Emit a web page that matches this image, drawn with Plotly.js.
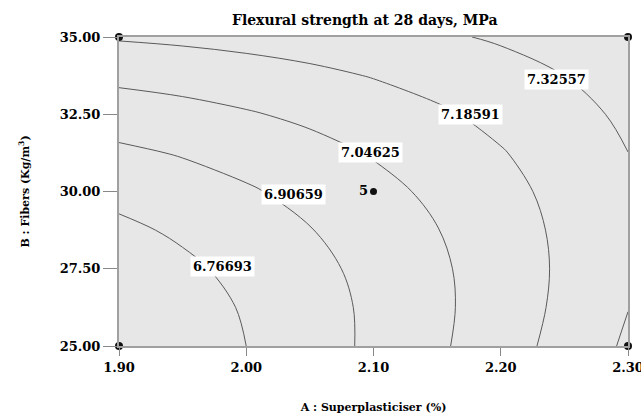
<!DOCTYPE html>
<html><head><meta charset="utf-8">
<script src="https://cdn.plot.ly/plotly-3.0.1.min.js"></script>
<style>html,body{margin:0;padding:0;background:#fff}#chart{width:641px;height:416px}</style>
</head><body><div id="chart"></div>
<script>
// A : Superplasticiser (%) grid
const superplasticiser = [1.90, 1.95, 2.00, 2.05, 2.10, 2.15, 2.20, 2.25, 2.30];
// B : Fibers (Kg/m3) grid
const fibers = [25.00, 26.25, 27.50, 28.75, 30.00, 31.25, 32.50, 33.75, 35.00];
// Flexural strength (MPa), rows = fibers, cols = superplasticiser
const strength = [
  [6.629, 6.694, 6.767, 6.846, 6.932, 7.025, 7.125, 7.232, 7.346],
  [6.652, 6.712, 6.778, 6.852, 6.932, 7.019, 7.114, 7.215, 7.323],
  [6.689, 6.742, 6.803, 6.870, 6.944, 7.025, 7.113, 7.208, 7.310],
  [6.740, 6.787, 6.841, 6.902, 6.969, 7.043, 7.124, 7.212, 7.306],
  [6.804, 6.845, 6.892, 6.946, 7.006, 7.073, 7.146, 7.225, 7.311],
  [6.882, 6.916, 6.957, 7.003, 7.056, 7.114, 7.178, 7.249, 7.325],
  [6.974, 7.001, 7.035, 7.073, 7.117, 7.167, 7.222, 7.283, 7.349],
  [7.079, 7.100, 7.126, 7.156, 7.192, 7.232, 7.277, 7.326, 7.381],
  [7.198, 7.212, 7.230, 7.252, 7.278, 7.308, 7.340, 7.380, 7.422]
];
const contourLevels = [6.76693, 6.90659, 7.04625, 7.18591, 7.32557];
// design points: factorial corners and centre point (5 replicates)
const cornerA = [1.90, 1.90, 2.30, 2.30];
const cornerB = [25.00, 35.00, 25.00, 35.00];
const centreA = [2.10];
const centreB = [30.00];
const centreText = ["5"];
const xTicks = [1.90, 2.00, 2.10, 2.20, 2.30];
const yTicks = [25.00, 27.50, 30.00, 32.50, 35.00];

// label placement (layout)
const labelAt = [[1.981, 27.56], [2.037, 29.89], [2.098, 31.25], [2.1766, 32.48], [2.2438, 33.61]];

const serif = '"DejaVu Serif", "Liberation Serif", serif';

const traces = [
  {
    type: 'contour',
    x: superplasticiser, y: fibers, z: strength,
    contours: {
      start: contourLevels[0],
      end: contourLevels[contourLevels.length - 1],
      size: contourLevels[1] - contourLevels[0],
      coloring: 'none', showlabels: false
    },
    line: {color: '#5a5a5a', width: 1, smoothing: 1},
    showscale: false, hoverinfo: 'skip'
  },
  {
    type: 'scatter', mode: 'markers',
    x: cornerA, y: cornerB,
    marker: {color: '#111', size: 8, symbol: 'circle'},
    cliponaxis: false, hoverinfo: 'skip'
  },
  {
    type: 'scatter', mode: 'markers+text',
    x: centreA, y: centreB, text: centreText,
    textposition: 'middle left',
    textfont: {family: serif, size: 13, color: '#000', weight: 'bold'},
    marker: {color: '#111', size: 7, symbol: 'circle'},
    cliponaxis: false, hoverinfo: 'skip'
  }
];

const annotations = contourLevels.map((lv, i) => ({
  x: labelAt[i][0], y: labelAt[i][1], xref: 'x', yref: 'y',
  text: lv.toFixed(5), showarrow: false,
  bgcolor: '#ffffff', borderpad: 2,
  font: {family: serif, size: 13, color: '#000', weight: 'bold'}
}));

const layout = {
  width: 641, height: 416,
  margin: {l: 119, r: 13, t: 37, b: 70},
  paper_bgcolor: '#ffffff', plot_bgcolor: '#e7e7e7',
  showlegend: false,
  title: {
    text: 'Flexural strength at 28 days, MPa',
    x: 0.569, xanchor: 'center', y: 0.952, yanchor: 'middle',
    font: {family: serif, size: 14, color: '#000', weight: 'bold'}
  },
  xaxis: {
    range: [1.90, 2.30], tickvals: xTicks, ticktext: xTicks.map(v => v.toFixed(2)),
    ticks: 'outside', ticklen: 8, tickcolor: '#888', tickwidth: 1,
    ticklabeloverflow: 'allow',
    showline: true, mirror: true, linecolor: '#a0a0a0', linewidth: 2,
    showgrid: false, zeroline: false,
    tickfont: {family: serif, size: 13, color: '#000', weight: 'bold'},
    title: {text: 'A : Superplasticiser (%)', standoff: 30,
            font: {family: serif, size: 11, color: '#000', weight: 'bold'}}
  },
  yaxis: {
    range: [25, 35], tickvals: yTicks, ticktext: yTicks.map(v => v.toFixed(2)),
    ticks: 'outside', ticklen: 14, tickcolor: '#888', tickwidth: 1,
    ticklabeloverflow: 'allow',
    showline: true, mirror: true, linecolor: '#a0a0a0', linewidth: 2,
    showgrid: false, zeroline: false,
    tickfont: {family: serif, size: 13, color: '#000', weight: 'bold'},
    title: {text: 'B : Fibers (Kg/m<sup>3</sup>)', standoff: 28,
            font: {family: serif, size: 11, color: '#000', weight: 'bold'}}
  },
  annotations: annotations
};

Plotly.newPlot('chart', traces, layout, {staticPlot: true, displayModeBar: false});
</script>
</body></html>
